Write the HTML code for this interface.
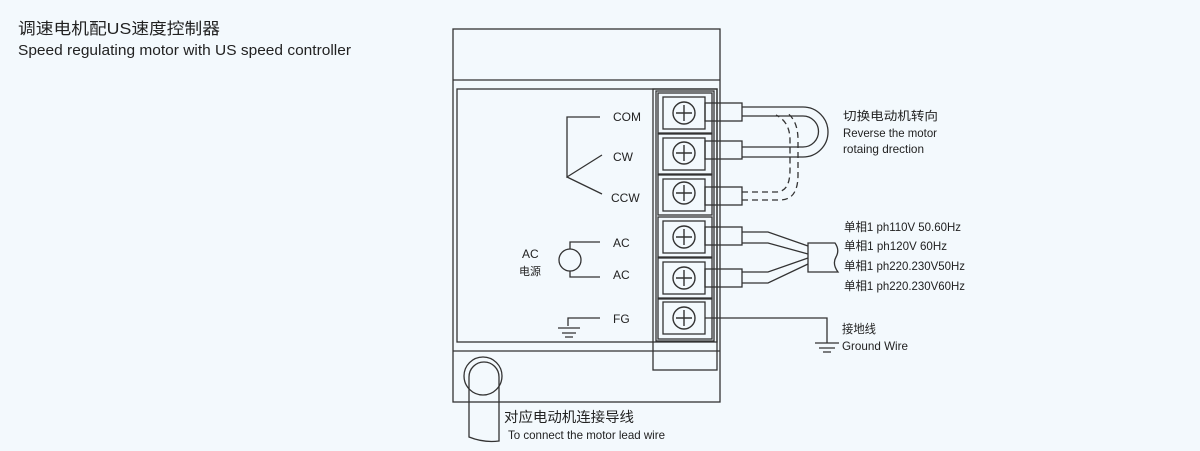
<!DOCTYPE html>
<html><head><meta charset="utf-8"><style>
html,body{margin:0;padding:0;background:#f3f9fd;}
svg{display:block;}
text{font-family:"Liberation Sans","Noto Sans CJK SC",sans-serif;fill:#222;}
</style></head><body>
<svg width="1200" height="451" viewBox="0 0 1200 451" xmlns="http://www.w3.org/2000/svg">
<rect width="1200" height="451" fill="#f3f9fd"/>
<text x="18" y="34" font-size="16" textLength="202" lengthAdjust="spacingAndGlyphs">调速电机配US速度控制器</text>
<text x="18" y="55" font-size="15" textLength="333" lengthAdjust="spacingAndGlyphs">Speed regulating motor with US speed controller</text>

<g fill="none" stroke="#333" stroke-width="1.3">
<!-- outer box -->
<rect x="453" y="29" width="267" height="373"/>
<line x1="453" y1="80" x2="720" y2="80"/>
<line x1="453" y1="351" x2="720" y2="351"/>
<rect x="457" y="89" width="260" height="253"/>
<!-- terminal block -->
<rect x="653" y="89" width="64" height="281"/>
<rect x="656" y="91" width="58" height="250"/>
<g>
<rect x="658" y="93" width="54" height="40"/><rect x="663" y="97" width="42" height="32"/>
<rect x="658" y="134" width="54" height="40"/><rect x="663" y="138" width="42" height="32"/>
<rect x="658" y="175" width="54" height="40"/><rect x="663" y="179" width="42" height="32"/>
<rect x="658" y="217" width="54" height="40"/><rect x="663" y="221" width="42" height="32"/>
<rect x="658" y="258" width="54" height="40"/><rect x="663" y="262" width="42" height="32"/>
<rect x="658" y="299" width="54" height="40"/><rect x="663" y="302" width="42" height="32"/>
</g>
<g stroke-width="1.4">
<circle cx="684" cy="113" r="11"/><path d="M676 113h16M684 105v16"/>
<circle cx="684" cy="153" r="11"/><path d="M676 153h16M684 145v16"/>
<circle cx="684" cy="193" r="11"/><path d="M676 193h16M684 185v16"/>
<circle cx="684" cy="237" r="11"/><path d="M676 237h16M684 229v16"/>
<circle cx="684" cy="278" r="11"/><path d="M676 278h16M684 270v16"/>
<circle cx="684" cy="318" r="11"/><path d="M676 318h16M684 310v16"/>
</g>
<!-- wire sleeves -->
<rect x="705" y="103" width="37" height="18"/>
<rect x="705" y="141" width="37" height="18"/>
<rect x="705" y="187" width="37" height="18"/>
<rect x="705" y="227" width="37" height="18"/>
<rect x="705" y="269" width="37" height="18"/>
<!-- COM-CW loop -->
<path d="M742 107H803A25 25 0 0 1 803 157H742"/>
<path d="M742 116H803A15.5 15.5 0 0 1 803 147H742"/>
<!-- dashed -->
<path d="M742 192H776Q790 192 790 170V140Q790 122 776 115" stroke-dasharray="6,4"/>
<path d="M742 200H780Q798 200 798 175V140Q798 120 786 112" stroke-dasharray="6,4"/>
<!-- AC wires -->
<path d="M742 232H768L808 246"/>
<path d="M742 243H768L808 254"/>
<path d="M742 272H768L808 258"/>
<path d="M742 283H768L808 264"/>
<path d="M808 243H835Q840 250 836 257Q832 264 838 272H808Z"/>
<!-- FG ground -->
<path d="M705 318H827V343"/>
<path d="M815 343h24M819 348h16M823 352h8"/>
<!-- left internal -->
<path d="M600 117H567V177L602 155M567 177L602 194"/>
<path d="M600 242H570V249M570 271V277H600"/>
<circle cx="570" cy="260" r="11"/>
<path d="M600 318H568V326M558 328h22M562 333h14M565 337h8"/>
<!-- motor lead -->
<circle cx="483" cy="376" r="19"/>
<path d="M469 437V377A15 15 0 0 1 499 377V441Q484 443 469 437Z"/>
</g>

<g font-size="12">
<text x="613" y="121">COM</text>
<text x="613" y="161">CW</text>
<text x="611" y="202">CCW</text>
<text x="613" y="247">AC</text>
<text x="613" y="279">AC</text>
<text x="613" y="323">FG</text>
<text x="522" y="258">AC</text>
<text x="519" y="275" font-size="11">电源</text>
<text x="843" y="120" textLength="95" lengthAdjust="spacingAndGlyphs">切换电动机转向</text>
<text x="843" y="137" textLength="94" lengthAdjust="spacingAndGlyphs">Reverse the motor</text>
<text x="843" y="153" textLength="81" lengthAdjust="spacingAndGlyphs">rotaing drection</text>
<text x="844" y="231" textLength="117" lengthAdjust="spacingAndGlyphs">单相1 ph110V 50.60Hz</text>
<text x="844" y="250" textLength="103" lengthAdjust="spacingAndGlyphs">单相1 ph120V 60Hz</text>
<text x="844" y="270" textLength="121" lengthAdjust="spacingAndGlyphs">单相1 ph220.230V50Hz</text>
<text x="844" y="290" textLength="121" lengthAdjust="spacingAndGlyphs">单相1 ph220.230V60Hz</text>
<text x="842" y="333" textLength="34" lengthAdjust="spacingAndGlyphs">接地线</text>
<text x="842" y="350" textLength="66" lengthAdjust="spacingAndGlyphs">Ground Wire</text>
<text x="504" y="422" font-size="14" textLength="130" lengthAdjust="spacingAndGlyphs">对应电动机连接导线</text>
<text x="508" y="439" textLength="157" lengthAdjust="spacingAndGlyphs">To connect the motor lead wire</text>
</g>
</svg>
</body></html>
